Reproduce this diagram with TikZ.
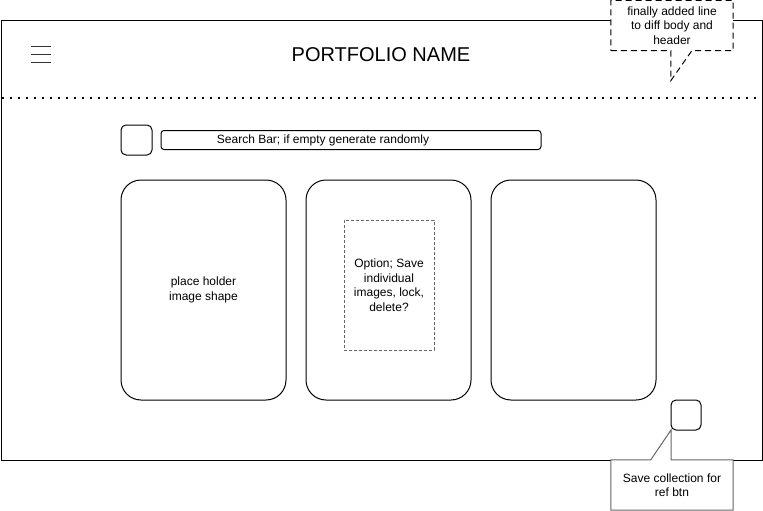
\documentclass[tikz,border=0pt]{standalone}
\usepackage{fontspec}
\setmainfont{Liberation Sans}
\usepackage{xcolor}
\usetikzlibrary{positioning,backgrounds}
\definecolor{cGrey}{HTML}{666666}
\tikzset{
  frame/.style={draw, line width=1pt, inner sep=0pt, minimum width=761pt, minimum height=439pt},
  card/.style={draw, rounded corners=20pt, line width=1pt, inner sep=0pt, outer sep=0pt,
               minimum width=165pt, minimum height=220pt},
  btn/.style={draw, rounded corners=5pt, line width=1pt, inner sep=0pt, outer sep=0pt,
              minimum size=30pt},
  bar/.style={draw, rounded corners=3pt, line width=1pt, inner sep=0pt, outer sep=0pt,
              minimum width=380pt, minimum height=19pt},
  slot/.style={draw=cGrey, line width=1pt, dash pattern=on 3pt off 2pt, inner sep=0pt,
               minimum width=90pt, minimum height=130pt},
  txt/.style={align=center, font=\fontsize{12}{14.5}\selectfont, inner sep=0pt},
  title/.style={font=\fontsize{20}{24}\selectfont, inner sep=0pt},
  callout/.style={draw, fill=white, line width=1pt, dash pattern=on 6pt off 4pt},
  calloutg/.style={draw=cGrey, fill=white, line width=1pt},
  sep/.style={line width=2pt, dash pattern=on 2pt off 6pt},
  menu/.style={line width=0.5pt, draw=black!80},
}
\begin{document}
\begin{tikzpicture}[x=1pt, y=-1pt]
  \useasboundingbox (0,0) rectangle (763,511);
  % page frame
  \begin{scope}[on background layer]
    \node[frame] (page) at (381.5,240.5) {};
  \end{scope}
  % header
  \foreach \yy in {46,54,62}
    \draw[menu] (31,\yy) -- (51,\yy);
  \node[title] (name) at (381,55) {PORTFOLIO NAME};
  \draw[sep] (2,98) -- (757,98);
  % search row
  \node[btn, minimum width=31pt] (searchBtn) at (136.5,140) {};
  \node[bar, right=9pt of searchBtn] (searchBar) {};
  \node[txt] (searchTxt) at (323,140.5) {Search Bar; if empty generate randomly};
  % image cards
  \node[card] (card1) at (203.5,290) {};
  \node[card, right=20pt of card1] (card2) {};
  \node[card, right=20pt of card2] (card3) {};
  \node[txt] (holder) at (card1) {place holder\\image shape};
  \node[slot, txt, minimum width=90pt, minimum height=130pt] (option) at (389,285)
    {Option; Save\\individual\\images, lock,\\delete?};
  % save button
  \node[btn] (saveBtn) at (686,415) {};
  % callouts
  \node[txt, minimum width=122pt, minimum height=50pt] (diffNote) at (672,25.5)
    {finally added line\\to diff body and\\header};
  \node[txt, minimum width=122pt, minimum height=50pt] (saveNote) at (672,485)
    {Save collection for\\ref btn};
  \begin{scope}[on background layer]
    \draw[callout] (diffNote.south west) -- ++(60,0) -- ++(0,30) -- ++(21,-30)
      -- (diffNote.south east) -- (diffNote.north east) -- (diffNote.north west) -- cycle;
    \draw[calloutg] (saveNote.north west) -- ++(40,0) -- (saveBtn.south west)
      -- (saveBtn.south west |- saveNote.north) -- (saveNote.north east)
      -- (saveNote.south east) -- (saveNote.south west) -- cycle;
  \end{scope}
\end{tikzpicture}
\end{document}
